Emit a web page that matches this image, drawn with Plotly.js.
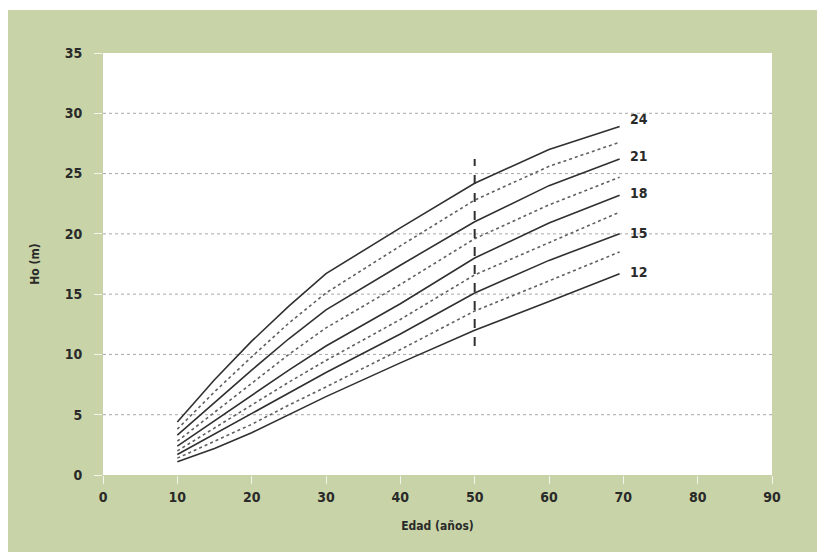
<!DOCTYPE html>
<html>
<head>
<meta charset="utf-8">
<script src="https://cdn.plot.ly/plotly-3.0.1.min.js"></script>
<style>
  html, body { margin: 0; padding: 0; background: #ffffff; }
  #chart { position: absolute; left: 8px; top: 10px; width: 809px; height: 542px; }
</style>
</head>
<body>
<div id="chart"></div>
<script>
// Ages (años)
const ages = [10, 15, 20, 25, 30, 40, 50, 60, 69.5];

// Site-index curves (Ho, m) — solid lines
const si24 = [4.4, 7.9, 11.1, 14.0, 16.7, 20.5, 24.2, 27.0, 28.9];
const si21 = [3.3, 6.0, 8.7, 11.3, 13.7, 17.4, 21.0, 24.0, 26.2];
const si18 = [2.4, 4.5, 6.6, 8.7, 10.7, 14.2, 18.0, 20.9, 23.2];
const si15 = [1.7, 3.4, 5.1, 6.8, 8.5, 11.7, 15.1, 17.8, 20.0];
const si12 = [1.1, 2.2, 3.5, 5.0, 6.5, 9.3, 12.0, 14.4, 16.7];

// Intermediate curves — dotted lines
const si225 = [3.8, 6.9, 9.8, 12.6, 15.1, 19.0, 22.8, 25.6, 27.6];
const si195 = [2.8, 5.2, 7.6, 10.0, 12.2, 15.8, 19.6, 22.4, 24.7];
const si165 = [2.0, 3.9, 5.8, 7.7, 9.5, 12.9, 16.6, 19.3, 21.8];
const si135 = [1.4, 2.8, 4.2, 5.8, 7.3, 10.4, 13.6, 16.1, 18.5];

const solidSeries = [si24, si21, si18, si15, si12];
const solidLabels = ["24", "21", "18", "15", "12"];
const dottedSeries = [si225, si195, si165, si135];

// Reference age line
const refAge = 50;
const refRange = [10.7, 26.2];

// Axis ticks
const xTicks = [0, 10, 20, 30, 40, 50, 60, 70, 80, 90];
const yTicks = [0, 5, 10, 15, 20, 25, 30, 35];
const gridVals = [5, 10, 15, 20, 25, 30];

const traces = [];
solidSeries.forEach((s) => {
  traces.push({x: ages, y: s, type: 'scatter', mode: 'lines',
    line: {color: '#303030', width: 1.6}, hoverinfo: 'skip'});
});
dottedSeries.forEach((s) => {
  traces.push({x: ages, y: s, type: 'scatter', mode: 'lines',
    line: {color: '#606060', width: 1.6, dash: 'dot'}, hoverinfo: 'skip'});
});
traces.push({x: [refAge, refAge], y: refRange, type: 'scatter', mode: 'lines',
  line: {color: '#303030', width: 2, dash: 'dash'}, hoverinfo: 'skip'});

const shapes = gridVals.map(v => ({
  type: 'line', xref: 'paper', yref: 'y', x0: 0, x1: 1, y0: v, y1: v,
  line: {color: '#a8a8a8', width: 1, dash: 'dot'}, layer: 'below'
}));

const labelShift = [8, 3, 2, 1, 2];
const annotations = solidSeries.map((s, i) => ({
  x: ages[ages.length - 1], y: s[s.length - 1], xref: 'x', yref: 'y',
  text: solidLabels[i], showarrow: false, xanchor: 'left', yanchor: 'middle',
  xshift: 8, yshift: labelShift[i],
  font: {family: 'DejaVu Sans Condensed', size: 14, weight: 'bold', color: '#2a2a2a'}
}));

const tickFont = {family: 'DejaVu Sans Condensed', size: 14, weight: 'bold', color: '#2a2a2a'};
const titleFont = {family: 'DejaVu Sans Condensed', size: 12, weight: 'bold', color: '#2a2a2a'};

const layout = {
  paper_bgcolor: '#c8d4a7',
  plot_bgcolor: '#ffffff',
  showlegend: false,
  margin: {l: 95, r: 45, t: 43, b: 77},
  xaxis: {
    range: [0, 90], tickvals: xTicks, ticktext: xTicks.map(String),
    showgrid: false, zeroline: false, showline: false,
    ticks: 'outside', ticklen: 8, tickcolor: '#f2f5ea', tickwidth: 1,
    ticklabelstandoff: 1,
    tickfont: tickFont, automargin: false,
    title: {text: 'Edad (años)', font: titleFont, standoff: 17}
  },
  yaxis: {
    range: [0, 35], tickvals: yTicks, ticktext: yTicks.map(String),
    showgrid: false, zeroline: false, showline: false,
    ticks: 'outside', ticklen: 8, tickcolor: '#f2f5ea', tickwidth: 1,
    ticklabelstandoff: 9,
    tickfont: tickFont, automargin: false,
    title: {text: 'Ho (m)', font: titleFont, standoff: 22}
  },
  shapes: shapes,
  annotations: annotations
};

Plotly.newPlot('chart', traces, layout, {displayModeBar: false, staticPlot: true});
</script>
</body>
</html>
